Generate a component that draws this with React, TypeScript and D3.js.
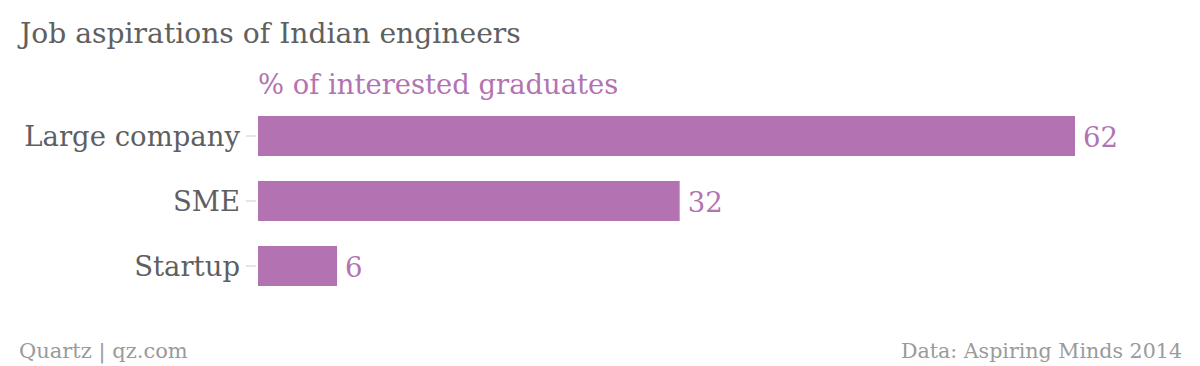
import React from "react";
import * as d3 from "d3";

const categories = ["Large company", "SME", "Startup"];
const values = [62, 32, 6];
const title = "Job aspirations of Indian engineers";
const subtitle = "% of interested graduates";
const sourceLeft = "Quartz | qz.com";
const sourceRight = "Data: Aspiring Minds 2014";

const W = 1200;
const H = 366;
const PURPLE = "#b373b3";
const FONT = "'DejaVu Serif', serif";

export default function App() {
  const x0 = 258;
  const x = d3.scaleLinear().domain([0, 62]).range([x0, 1075]);
  const y = d3
    .scaleBand<string>()
    .domain(categories)
    .range([116 - 12.5, 286 + 12.5])
    .paddingInner(25 / 65)
    .paddingOuter(12.5 / 65);
  return (
    <svg width={W} height={H} style={{ position: "absolute", left: 0, top: 0, background: "#fff" }}>
      <text x={20} y={43} fontFamily={FONT} fontSize={28.2} fill="#606060">{title}</text>
      <text x={x0} y={94} fontFamily={FONT} fontSize={27.4} fill={PURPLE}>{subtitle}</text>
      {categories.map((c, i) => {
        const yy = y(c)!;
        const bw = y.bandwidth();
        const cy = yy + bw / 2;
        return (
          <g key={c}>
            <line x1={246} x2={256} y1={cy} y2={cy} stroke="#dddddd" strokeWidth={1.5} />
            <text x={240} y={cy + 10} textAnchor="end" fontFamily={FONT} fontSize={27.5} fill="#5f5f5f">{c}</text>
            <rect x={x(0)} y={yy} width={x(values[i]) - x(0)} height={bw} fill={PURPLE} />
            <text x={x(values[i]) + 8} y={cy + 11} fontFamily={FONT} fontSize={27.5} fill={PURPLE}>{values[i]}</text>
          </g>
        );
      })}
      <text x={19} y={358} fontFamily={FONT} fontSize={21} fill="#9a9a9a">{sourceLeft}</text>
      <text x={1182} y={358} textAnchor="end" fontFamily={FONT} fontSize={20.6} fill="#9a9a9a">{sourceRight}</text>
    </svg>
  );
}
